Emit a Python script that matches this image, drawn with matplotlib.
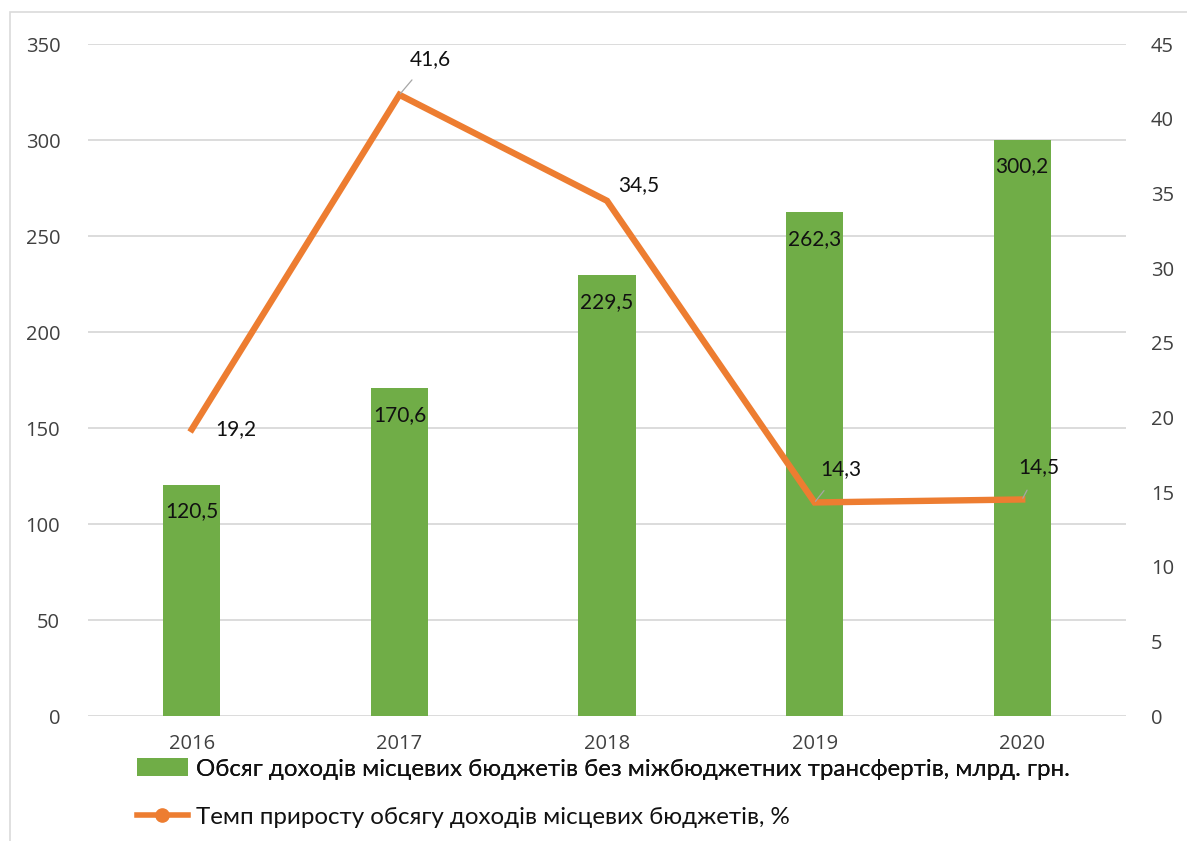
import matplotlib
matplotlib.use("Agg")
import matplotlib.pyplot as plt
from matplotlib.lines import Line2D
from matplotlib.patches import Patch, Rectangle

years = ["2016", "2017", "2018", "2019", "2020"]
revenue = [120.5, 170.6, 229.5, 262.3, 300.2]      # bn UAH
growth = [19.2, 41.6, 34.5, 14.3, 14.5]            # %
revenue_labels = ["120,5", "170,6", "229,5", "262,3", "300,2"]
growth_labels = ["19,2", "41,6", "34,5", "14,3", "14,5"]
left_ticks = [0, 50, 100, 150, 200, 250, 300, 350]
right_ticks = [0, 5, 10, 15, 20, 25, 30, 35, 40, 45]
bar_name = "Обсяг доходів місцевих бюджетів без міжбюджетних трансфертів, млрд. грн."
line_name = "Темп приросту обсягу доходів місцевих бюджетів, %"

GREEN = "#70AD47"
ORANGE = "#ED7D31"
GRID = "#D9D9D9"
TEXT = "#404040"

W, H = 1187, 841
fig = plt.figure(figsize=(W / 100, H / 100), dpi=100)
fig.patch.set_facecolor("white")

# chart frame
fig.patches.append(Rectangle((10 / W, -0.01), 1.02, 1 - 12 / H + 0.01,
                             transform=fig.transFigure, fill=False,
                             edgecolor="#DADADA", linewidth=1.2))

ax = fig.add_axes([88 / W, 125 / H, 1038 / W, 672 / H])
ax2 = ax.twinx()

x = list(range(len(years)))
ax.bar(x, revenue, width=0.275, color=GREEN, zorder=2)
ax.set_xlim(-0.5, len(years) - 0.5)
ax.set_ylim(0, 350)
ax.set_yticks(left_ticks)
ax.set_xticks(x)
ax.set_xticklabels(years)
ax.grid(axis="y", color=GRID, linewidth=1.3, zorder=0)
ax.set_axisbelow(True)

ax2.plot(x, growth, color=ORANGE, linewidth=4.6, solid_joinstyle="miter", zorder=3)
ax2.set_ylim(0, 45)
ax2.set_yticks(right_ticks)

for a in (ax, ax2):
    for s in a.spines.values():
        s.set_visible(False)
    a.tick_params(length=0, labelsize=14.5, labelcolor=TEXT)
    for lab in a.get_yticklabels() + a.get_xticklabels():
        lab.set_fontfamily("Open Sans")
ax.tick_params(axis="y", pad=20)
ax2.tick_params(axis="y", pad=18)
ax.tick_params(axis="x", pad=13)

# bar value labels, just below the top of each bar
for xi, v, lab in zip(x, revenue, revenue_labels):
    ax.annotate(lab, (xi, v), xytext=(0, -19), textcoords="offset points",
                ha="center", va="center", fontsize=15, family="Lato",
                color="#111111", zorder=4)

# growth value labels (offsets in points), some with leader lines
offsets = [(32, 0), (22, 26), (23, 11), (19, 24), (12, 23)]
leaders = [False, True, False, True, True]
for xi, v, lab, off, lead in zip(x, growth, growth_labels, offsets, leaders):
    ax2.annotate(lab, (xi, v), xytext=off, textcoords="offset points",
                 ha="center", va="center", fontsize=15, family="Lato",
                 color="#111111", zorder=5,
                 arrowprops=dict(arrowstyle="-", color="#A6A6A6", lw=0.9,
                                 shrinkA=8, shrinkB=1) if lead else None)

# legend rows
handles1 = [Patch(facecolor=GREEN, edgecolor="none")]
handles2 = [Line2D([0], [0], color=ORANGE, linewidth=4, marker="o",
                   markersize=9.5, markerfacecolor=ORANGE, markeredgecolor=ORANGE)]
common = dict(loc="center left", frameon=False, borderpad=0, borderaxespad=0,
              prop={"family": "Lato", "size": 17.4}, handlelength=2.1,
              handletextpad=0.33, labelcolor="#111111")
leg1 = fig.legend(handles1, [bar_name], bbox_to_anchor=(137 / W, 1 - 769 / H),
                  handleheight=0.75, **common)
leg2 = fig.legend(handles2, [line_name], bbox_to_anchor=(137 / W, 1 - 817 / H),
                  **common)
fig.add_artist(leg1)

fig.savefig("out.png", dpi=100, facecolor="white")
